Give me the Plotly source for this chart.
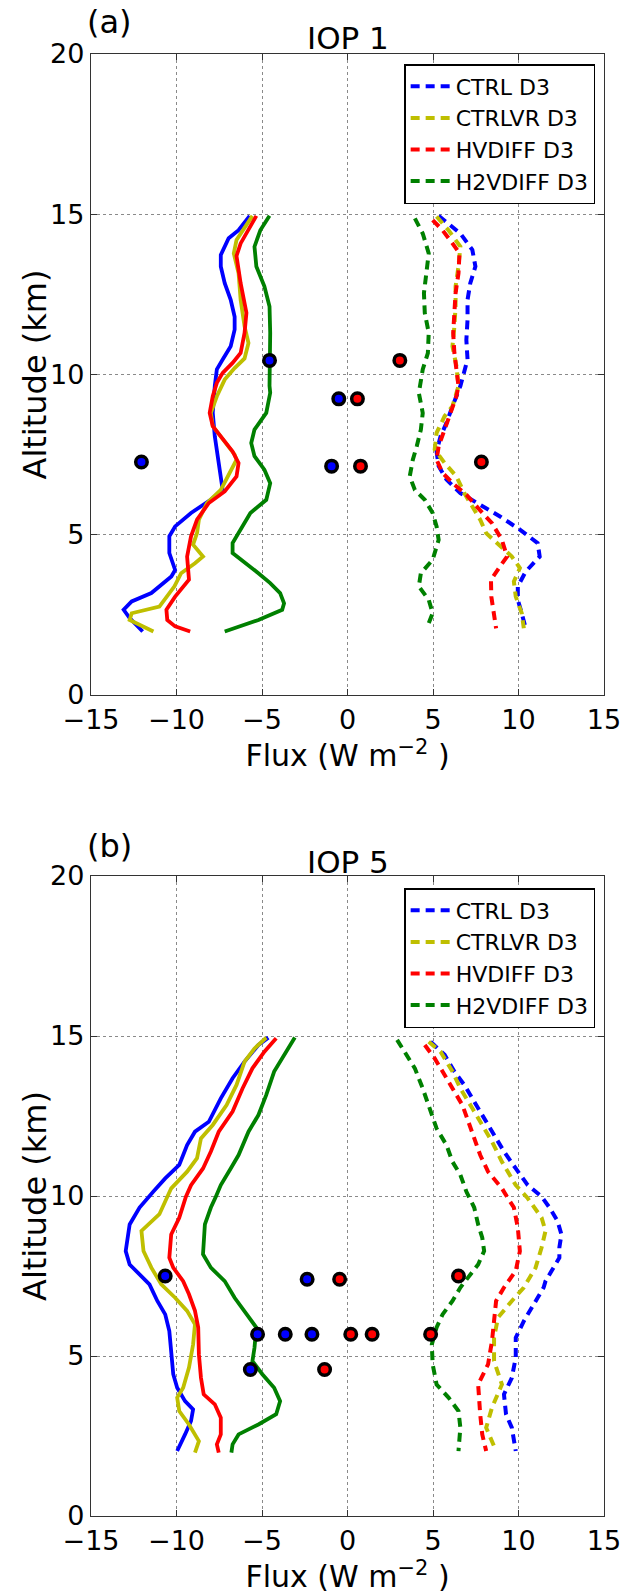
import plotly.graph_objects as go
from plotly.subplots import make_subplots

# ---- model runs ----
RUNS = ["CTRL D3", "CTRLVR D3", "HVDIFF D3", "H2VDIFF D3"]
COLORS = ["#0000ff", "#bfbf00", "#ff0000", "#008000"]

# ---- IOP 1: downward (negative) flux profiles, (altitude km, flux W m-2) ----
iop1_ctrl_neg = [(14.95, -5.72), (14.5, -6.37), (14.25, -6.95), (13.73, -7.41), (13.37, -7.41), (12.85, -7.18),
                 (12.33, -6.83), (11.8, -6.6), (11.4, -6.6), (10.88, -6.83), (10.47, -7.3), (10.16, -7.64),
                 (9.64, -7.76), (8.8, -7.88), (8.07, -7.76), (7.45, -7.57), (6.93, -7.41), (6.4, -7.3),
                 (6.09, -8.0), (5.68, -9.15), (5.26, -10.08), (4.95, -10.42), (4.43, -10.42), (3.9, -10.08),
                 (3.7, -10.3), (3.18, -11.47), (2.92, -12.62), (2.66, -13.09), (2.4, -12.74), (2.14, -12.28),
                 (1.98, -11.98)]
iop1_ctrlvr_neg = [(14.95, -5.56), (14.5, -6.14), (14.2, -6.49), (13.78, -6.65), (13.16, -6.37), (12.33, -6.25),
                   (11.5, -6.02), (10.98, -5.79), (10.5, -6.02), (10.2, -6.6), (9.84, -7.18), (9.32, -7.64),
                   (8.8, -7.99), (8.39, -7.88), (7.97, -7.3), (7.5, -6.6), (7.34, -6.49), (6.93, -6.88),
                   (6.4, -7.41), (5.99, -8.22), (5.47, -8.69), (5.05, -8.8), (4.69, -9.03), (4.32, -8.45),
                   (4.11, -8.92), (3.8, -9.73), (3.39, -10.12), (2.76, -11.0), (2.55, -12.62), (2.34, -12.74),
                   (2.08, -11.81), (1.98, -11.35)]
iop1_hvdiff_neg = [(14.95, -5.33), (14.5, -5.79), (14.09, -6.25), (13.7, -6.49), (12.85, -6.25), (11.92, -5.91),
                   (11.3, -6.02), (10.67, -6.25), (10.36, -6.72), (10.05, -7.3), (9.74, -7.64), (9.32, -7.88),
                   (8.8, -8.06), (8.39, -7.88), (7.97, -7.3), (7.6, -6.72), (7.24, -6.37), (6.82, -6.49),
                   (6.35, -7.18), (5.99, -8.11), (5.47, -8.8), (4.95, -9.15), (4.32, -9.38), (3.6, -9.27),
                   (3.07, -10.08), (2.66, -10.59), (2.34, -10.54), (2.14, -10.08), (1.98, -9.2)]
iop1_h2vdiff_neg = [(14.95, -4.56), (14.5, -5.1), (13.99, -5.44), (13.37, -5.33), (12.75, -4.86), (12.12, -4.56),
                    (11.3, -4.52), (10.47, -4.56), (9.64, -4.56), (9.43, -4.52), (8.8, -4.75), (8.28, -5.44),
                    (7.86, -5.63), (7.45, -5.44), (7.03, -4.86), (6.61, -4.52), (6.09, -4.75), (5.68, -5.68),
                    (5.16, -6.25), (4.74, -6.72), (4.43, -6.72), (4.11, -5.91), (3.8, -5.21), (3.49, -4.52),
                    (3.18, -3.94), (2.86, -3.71), (2.66, -3.82), (2.34, -5.21), (2.14, -6.37), (1.98, -7.18)]

# ---- IOP 1: upward (positive) flux profiles ----
iop1_ctrl_pos = [(14.95, 5.33), (14.4, 6.6), (13.89, 7.3), (13.37, 7.48), (12.85, 7.18), (12.33, 7.02),
                 (11.71, 7.02), (11.08, 6.95), (10.47, 7.02), (10.05, 6.83), (9.64, 6.6), (9.01, 6.14),
                 (8.49, 5.79), (8.07, 5.44), (7.6, 5.21), (7.14, 5.33), (6.72, 5.79), (6.3, 6.6),
                 (5.94, 7.76), (5.57, 8.92), (5.16, 10.08), (4.74, 11.12), (4.32, 11.24), (3.85, 10.42),
                 (3.39, 9.96), (2.97, 9.96), (2.55, 10.19), (2.08, 10.42)]
iop1_ctrlvr_pos = [(14.93, 5.21), (14.5, 5.91), (13.99, 6.6), (13.37, 6.49), (12.75, 6.32), (12.12, 6.32),
                   (11.5, 6.25), (10.88, 6.14), (10.26, 6.37), (9.64, 6.49), (9.01, 6.14), (8.7, 5.68),
                   (8.18, 5.21), (7.66, 5.1), (7.24, 5.68), (6.82, 6.37), (6.3, 6.83), (5.89, 7.3),
                   (5.47, 7.76), (5.05, 8.11), (4.64, 8.92), (4.32, 9.61), (3.96, 10.08), (3.54, 9.73),
                   (3.07, 9.84), (2.55, 10.19), (2.08, 10.31)]
iop1_hvdiff_pos = [(14.82, 4.98), (14.5, 5.56), (14.09, 6.14), (13.78, 6.55), (13.16, 6.49), (12.54, 6.32),
                   (11.92, 6.25), (11.3, 6.18), (10.67, 6.25), (10.05, 6.37), (9.64, 6.49), (9.32, 6.37),
                   (8.8, 6.02), (8.28, 5.68), (7.76, 5.33), (7.34, 5.21), (6.93, 5.56), (6.56, 6.25),
                   (6.25, 6.95), (5.83, 7.64), (5.36, 8.45), (4.84, 9.03), (4.32, 9.33), (4.01, 8.92),
                   (3.6, 8.39), (3.07, 8.41), (2.55, 8.57), (2.08, 8.69)]
iop1_h2vdiff_pos = [(14.87, 3.94), (14.4, 4.4), (13.78, 4.75), (13.16, 4.63), (12.54, 4.47), (11.92, 4.52),
                    (11.3, 4.75), (10.67, 4.7), (10.16, 4.4), (9.64, 4.24), (9.43, 4.17), (8.8, 4.4),
                    (8.28, 4.29), (7.76, 4.05), (7.34, 3.82), (6.82, 3.64), (6.4, 3.94), (6.09, 4.52),
                    (5.68, 4.98), (5.26, 5.21), (4.84, 5.33), (4.22, 4.98), (3.8, 4.29), (3.39, 4.17),
                    (2.97, 4.75), (2.55, 4.98), (2.08, 4.63)]

# ---- IOP 1: observed fluxes (flux, altitude) ----
iop1_obs_neg = [(-4.56, 10.44), (-0.51, 9.24), (-0.93, 7.14), (-12.05, 7.27)]
iop1_obs_pos = [(3.06, 10.44), (0.58, 9.24), (0.76, 7.14), (7.83, 7.27)]

# ---- IOP 5: downward (negative) flux profiles ----
iop5_ctrl_neg = [(14.95, -4.63), (14.72, -5.21), (14.2, -6.02), (13.68, -6.72), (13.05, -7.41), (12.32, -8.11),
                 (12.01, -8.92), (11.59, -9.38), (10.97, -9.84), (10.55, -10.66), (10.14, -11.35), (9.64, -12.16),
                 (9.11, -12.74), (8.28, -12.97), (7.86, -12.74), (7.55, -12.16), (7.24, -11.58), (6.72, -11.12),
                 (6.3, -10.66), (5.78, -10.42), (5.05, -10.31), (4.43, -10.19), (4.01, -9.96), (3.59, -9.5),
                 (3.33, -9.03), (2.97, -9.15), (2.55, -9.5), (2.03, -9.96)]
iop5_ctrlvr_neg = [(14.95, -4.75), (14.61, -5.44), (14.2, -6.02), (13.47, -6.49), (12.84, -7.07), (12.22, -7.88),
                   (11.8, -8.57), (11.18, -8.8), (10.76, -9.38), (10.24, -10.31), (9.43, -11.0), (8.91, -12.05),
                   (8.28, -11.93), (7.76, -11.47), (7.24, -10.89), (6.82, -10.08), (6.41, -9.38), (5.99, -8.92),
                   (5.36, -9.03), (4.64, -9.27), (4.01, -9.61), (3.7, -9.96), (3.28, -9.84), (2.86, -9.27),
                   (2.34, -8.69), (1.98, -8.92)]
iop5_hvdiff_neg = [(14.93, -4.17), (14.51, -4.86), (13.99, -5.56), (13.36, -6.14), (12.64, -6.72), (12.01, -7.53),
                   (11.39, -7.99), (10.86, -8.45), (10.34, -9.15), (9.98, -9.45), (9.32, -9.84), (8.8, -10.31),
                   (8.07, -10.42), (7.76, -10.19), (7.34, -9.61), (6.93, -9.27), (6.41, -8.92), (5.89, -8.73),
                   (5.05, -8.69), (4.32, -8.57), (3.8, -8.41), (3.49, -7.76), (3.07, -7.41), (2.55, -7.41),
                   (2.24, -7.64), (1.98, -7.53)]
iop5_h2vdiff_neg = [(14.95, -3.08), (14.41, -3.71), (13.89, -4.29), (13.16, -4.75), (12.53, -5.21), (12.01, -5.79),
                    (11.28, -6.37), (10.86, -6.83), (10.34, -7.41), (9.98, -7.7), (9.64, -7.99), (9.11, -8.34),
                    (8.18, -8.45), (7.76, -7.99), (7.34, -7.18), (6.82, -6.6), (6.3, -5.91), (5.89, -5.33),
                    (5.26, -5.44), (4.84, -5.56), (4.43, -4.98), (4.01, -4.29), (3.59, -3.94), (3.18, -4.17),
                    (2.86, -5.21), (2.55, -6.37), (2.24, -6.72), (1.98, -6.79)]

# ---- IOP 5: upward (positive) flux profiles ----
iop5_ctrl_pos = [(14.82, 4.86), (14.41, 5.68), (13.89, 6.25), (13.47, 6.83), (12.95, 7.41), (12.43, 7.99),
                 (11.91, 8.57), (11.39, 9.15), (10.86, 9.84), (10.34, 10.54), (9.98, 11.35), (9.64, 11.81),
                 (9.22, 12.28), (8.8, 12.51), (8.39, 12.39), (8.07, 12.39), (7.34, 11.58), (7.14, 11.47),
                 (6.82, 11.12), (6.09, 10.31), (5.57, 9.84), (4.95, 9.84), (4.32, 9.61), (3.8, 9.15),
                 (3.18, 9.27), (2.76, 9.61), (2.03, 9.84)]
iop5_ctrlvr_pos = [(14.82, 4.75), (14.51, 5.44), (13.89, 6.14), (13.36, 6.6), (12.74, 7.3), (12.22, 7.88),
                   (11.7, 8.45), (11.07, 9.03), (10.34, 9.84), (9.93, 10.54), (9.32, 11.35), (8.91, 11.58),
                   (8.39, 11.35), (7.76, 11.0), (7.14, 10.31), (6.72, 9.61), (6.2, 8.8), (5.57, 8.57),
                   (4.84, 8.57), (4.11, 9.03), (3.39, 8.45), (2.76, 8.11), (2.03, 8.69)]
iop5_hvdiff_pos = [(14.72, 4.52), (14.3, 5.1), (13.89, 5.56), (13.36, 6.14), (12.84, 6.72), (12.32, 7.07),
                   (11.8, 7.41), (11.28, 7.76), (10.76, 8.22), (10.24, 9.03), (9.93, 9.38), (9.64, 9.73),
                   (9.01, 9.96), (8.28, 10.08), (7.66, 9.84), (7.14, 9.15), (6.72, 8.69), (6.09, 8.57),
                   (5.47, 8.45), (4.74, 8.22), (4.11, 7.64), (3.18, 7.76), (2.55, 7.88), (2.03, 8.11)]
iop5_h2vdiff_pos = [(14.88, 2.9), (14.51, 3.36), (13.99, 3.94), (13.36, 4.4), (12.64, 4.86), (12.11, 5.21),
                    (11.59, 5.79), (11.07, 6.14), (10.66, 6.6), (10.14, 6.95), (9.64, 7.41), (9.11, 7.64),
                    (8.7, 7.88), (8.28, 7.99), (7.86, 7.64), (7.45, 7.07), (7.14, 6.6), (6.72, 6.14),
                    (6.3, 5.56), (5.89, 5.21), (5.36, 4.93), (4.74, 4.98), (4.11, 5.21), (3.7, 5.91),
                    (3.28, 6.49), (2.76, 6.6), (2.03, 6.49)]

# ---- IOP 5: observed fluxes (flux, altitude) ----
iop5_obs_neg = [(-10.66, 7.5), (-2.36, 7.4), (-5.26, 5.68), (-3.64, 5.68), (-2.08, 5.68), (-5.68, 4.58)]
iop5_obs_pos = [(6.49, 7.5), (-0.46, 7.4), (0.19, 5.68), (1.44, 5.68), (4.86, 5.68), (-1.34, 4.58)]

X_TICKS = [-15, -10, -5, 0, 5, 10, 15]
Y_TICKS = [0, 5, 10, 15, 20]

FONT = "DejaVu Sans"
W, H = 633, 1596
ML, MR, MT, MB = 91, 20, 54, 80
PLOT_H = H - MT - MB


def py(pix):
    """pixel row -> paper y"""
    return 1 - (pix - MT) / PLOT_H


def px(pix):
    return (pix - ML) / (W - ML - MR)


fig = make_subplots(rows=2, cols=1)
fig.update_layout(
    yaxis=dict(domain=[py(695), 1.0]),
    yaxis2=dict(domain=[0.0, py(876)]),
)

panels = [
    (1, "legend", [iop1_ctrl_neg, iop1_ctrlvr_neg, iop1_hvdiff_neg, iop1_h2vdiff_neg],
     [iop1_ctrl_pos, iop1_ctrlvr_pos, iop1_hvdiff_pos, iop1_h2vdiff_pos], iop1_obs_neg, iop1_obs_pos),
    (2, "legend2", [iop5_ctrl_neg, iop5_ctrlvr_neg, iop5_hvdiff_neg, iop5_h2vdiff_neg],
     [iop5_ctrl_pos, iop5_ctrlvr_pos, iop5_hvdiff_pos, iop5_h2vdiff_pos], iop5_obs_neg, iop5_obs_pos),
]

for row, leg, negs, poss, obs_n, obs_p in panels:
    for name, col, prof in zip(RUNS, COLORS, negs):
        fig.add_trace(go.Scatter(
            x=[p[1] for p in prof], y=[p[0] for p in prof], mode="lines",
            line=dict(color=col, width=3.8), showlegend=False, hoverinfo="skip",
        ), row=row, col=1)
    for name, col, prof in zip(RUNS, COLORS, poss):
        fig.add_trace(go.Scatter(
            x=[p[1] for p in prof], y=[p[0] for p in prof], mode="lines", name=name,
            line=dict(color=col, width=4, dash="9px,6px"), legend=leg, legendgroup=leg + name,
        ), row=row, col=1)
    for obs, col in ((obs_n, "#0000ff"), (obs_p, "#ff0000")):
        fig.add_trace(go.Scatter(
            x=[o[0] for o in obs], y=[o[1] for o in obs], mode="markers", showlegend=False,
            marker=dict(color=col, size=11.5, line=dict(color="black", width=3.5)),
        ), row=row, col=1)

axis_common = dict(
    showline=True, linecolor="#333333", linewidth=1.3, mirror="ticks",
    ticks="inside", ticklen=6, tickcolor="#333333", tickwidth=1,
    showgrid=True, gridcolor="#8a8a8a", griddash="dot", gridwidth=1,
    zeroline=False, tickfont=dict(family=FONT, size=27, color="black"),
)
for r in (1, 2):
    fig.update_xaxes(range=[-15, 15], tickvals=X_TICKS, row=r, col=1,
                     title=dict(text="Flux (W m<sup>\u22122</sup> )", font=dict(family=FONT, size=30, color="black"),
                                standoff=5),
                     **axis_common)
    fig.update_yaxes(range=[0, 20], tickvals=Y_TICKS, row=r, col=1, **axis_common)

legend_common = dict(
    font=dict(family=FONT, size=22, color="black"), bgcolor="white", bordercolor="black", borderwidth=1.5,
    xanchor="right", yanchor="top", traceorder="grouped", tracegroupgap=0, itemwidth=40,
)
fig.update_layout(
    legend=dict(x=px(604), y=py(64), **legend_common),
    legend2=dict(x=px(604), y=py(888), **legend_common),
)

# panel letters, panel titles and the rotated altitude labels
annots = [
    ("(a)", px(85), py(22), "left", 32, 0), ("IOP 1", 0.5, py(38), "center", 31, 0),
    ("(b)", px(85), py(846), "left", 32, 0), ("IOP 5", 0.5, py(862), "center", 31, 0),
    ("Altitude (km)", px(34), py((54 + 695) / 2), "center", 32, -90),
    ("Altitude (km)", px(34), py((876 + 1516) / 2), "center", 32, -90),
]
for text, ax_, ay_, anchor, size, angle in annots:
    fig.add_annotation(text=text, x=ax_, y=ay_, xref="paper", yref="paper", xanchor=anchor, yanchor="middle",
                       textangle=angle, showarrow=False, font=dict(family=FONT, size=size, color="black"))

fig.update_layout(
    width=W, height=H, margin=dict(l=ML, r=MR, t=MT, b=MB),
    paper_bgcolor="white", plot_bgcolor="white", font=dict(family=FONT),
)

fig.write_html("out.html")
